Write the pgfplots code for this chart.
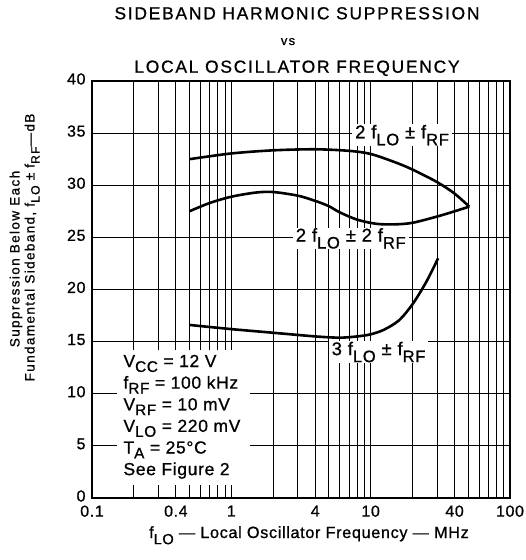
\documentclass[border=0pt]{standalone}
\usepackage{fontspec}
\setmainfont{Liberation Sans}[LetterSpace=10, FakeBold=0.8]
\newfontfamily\tight{Liberation Sans}[LetterSpace=4, FakeBold=0.8]
\usepackage{graphicx}
\usepackage{pgfplots}
\pgfplotsset{compat=1.18}
\newcommand\sub[1]{\raisebox{-0.38em}{\scalebox{0.9}{#1}}}
\newcommand\bsub[1]{\raisebox{-0.28em}{\scalebox{0.88}{#1}}}
\newcommand\fs[1]{\fontsize{#1}{#1}\selectfont}

\begin{document}
\begin{tikzpicture}
\begin{semilogxaxis}[
  scale only axis, width=418bp, height=417bp,
  xmin=0.1, xmax=100, ymin=0, ymax=40,
  xtick={0.1,0.4,1,4,10,40,100},
  xticklabels={0.1,0.4,1,4,10,40,100},
  minor xtick={0.2,0.3,0.5,0.6,0.7,0.8,0.9,2,3,5,6,7,8,9,20,30,50,60,70,80,90},
  ytick={0,5,...,40},
  grid=both,
  major grid style={black, line width=0.9bp},
  minor grid style={black, line width=0.9bp},
  major tick length=0pt, minor tick length=0pt,
  axis line style={line width=1.4bp},
  tick label style={font=\tight\fs{16}},
  /pgf/number format/assume math mode=true,
  xticklabel style={yshift=-4bp},
  yticklabel style={xshift=-3bp, yshift=2bp},
]
% 2 fLO +- fRF
\addplot[black, line width=2.6bp, smooth] coordinates {
  (0.5,32.5) (1,33.05) (2,33.35) (4,33.45) (7,33.3) (10,33.0)
  (15,32.2) (20,31.5) (30,30.3) (40,29.2) (51,27.95)
};
% 2 fLO +- 2 fRF
\addplot[black, line width=2.6bp, smooth] coordinates {
  (0.5,27.5) (0.7,28.3) (1,28.9) (1.5,29.3) (2,29.35) (3,29.0) (4,28.5)
  (5,28.0) (6,27.4) (8,26.7) (11,26.3) (15,26.25) (20,26.4) (30,27.0) (40,27.5) (51,27.95)
};
% 3 fLO +- fRF
\addplot[black, line width=2.6bp, smooth] coordinates {
  (0.5,16.6) (1,16.2) (2,15.85) (4,15.5) (6,15.38) (8,15.5) (10,15.7)
  (12.5,16.15) (16,17.05) (20,18.6) (25,20.7) (30.5,23.0)
};

\node[fill=white, inner xsep=3bp, inner ysep=0.5bp, font=\tight\fs{18.5}] at (axis cs:16.8,34.8) {2 f\sub{LO} ± f\sub{RF}};
\node[fill=white, inner xsep=3bp, inner ysep=0.5bp, font=\tight\fs{18.5}] at (axis cs:7.2,24.9) {2 f\sub{LO} ± 2 f\sub{RF}};
\node[fill=white, inner xsep=3bp, inner ysep=0.5bp, font=\tight\fs{18.5}] at (axis cs:11.4,14.0) {3 f\sub{LO} ± f\sub{RF}};

\fill[white] (axis cs:0.1504,14.19) rectangle (axis cs:1.363,1.25);
\node[anchor=north west, align=left, inner sep=0pt, font=\tight\fontsize{17.5}{21.7}\selectfont]
  at (axis cs:0.1678,13.75) {V\bsub{CC} = 12 V\\ f\bsub{RF} = 100 kHz\\ V\bsub{RF} = 10 mV\\
  V\bsub{LO} = 220 mV\\ T\bsub{A} = 25°C\\ See Figure 2};
\end{semilogxaxis}

\node[font=\fs{17.5}, anchor=base] at (205bp,478.7bp) {SIDEBAND HARMONIC SUPPRESSION};
\node[font=\fs{13}, anchor=base] at (196bp,453bp) {vs};
\node[font=\fs{17.5}, anchor=base] at (205bp,425.3bp) {LOCAL OSCILLATOR FREQUENCY};
\node[font=\tight\fs{16.3}, anchor=base] at (217bp,-40bp) {f\sub{LO} — Local Oscillator Frequency — MHz};
\node[rotate=90, anchor=base, font=\fs{13.6}] at (-72.5bp,239bp) {Suppression Below Each};
\node[rotate=90, anchor=base, font=\fs{13.6}] at (-57.5bp,250.5bp) {Fundamental Sideband, f\sub{LO} ± f\sub{RF}—dB};

\pgfresetboundingbox
\path (-92bp,-62bp) rectangle (434bp,498bp);
\end{tikzpicture}
\end{document}
